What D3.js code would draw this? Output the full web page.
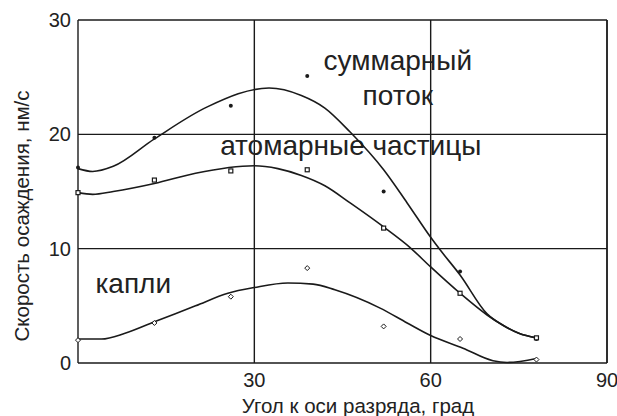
<!DOCTYPE html>
<html><head><meta charset="utf-8">
<script src="https://cdn.jsdelivr.net/npm/d3@7"></script>
<style>body{margin:0;background:#fff}svg{display:block}text{font-family:"Liberation Sans",Arial,sans-serif;fill:#222}</style>
</head><body><svg id="c" width="617" height="416"></svg>
<script>
const xTicks = [0, 30, 60, 90];
const yTicks = [0, 10, 20, 30];
const xTickLabels = ["", "30", "60", "90"];
const yTickLabels = ["0", "10", "20", "30"];
const xTitle = "Угол к оси разряда, град";
const yTitle = "Скорость осаждения, нм/с";

// measured points
const angles = [0, 13, 26, 39, 52, 65, 78];
const totalPts = [17.1, 19.7, 22.5, 25.1, 15.0, 8.0, 2.1];
const atomicPts = [14.9, 16.0, 16.8, 16.9, 11.8, 6.1, 2.2];
const dropPts = [2.0, 3.5, 5.8, 8.3, 3.2, 2.1, 0.3];

// fitted curves
const totalCurveX = [0, 2.5, 6, 13, 22, 32.5, 38, 42, 46.3, 52, 56, 60, 61.6, 65, 69.6, 72.3, 75, 78];
const totalCurveY = [17.0, 16.75, 17.2, 19.6, 22.4, 24.05, 23.4, 22.3, 20.2, 16.9, 14.0, 11.0, 9.9, 7.7, 4.3, 3.3, 2.6, 2.2];
const atomicCurveX = [0, 2.5, 6, 13, 20, 30, 34, 38, 42, 46.3, 52, 56.5, 60, 65, 69.6, 72.3, 75, 78];
const atomicCurveY = [14.9, 14.75, 15.0, 15.7, 16.6, 17.25, 17.0, 16.4, 15.5, 14.0, 11.9, 10.1, 8.4, 6.1, 4.2, 3.3, 2.6, 2.2];
const dropCurveX = [0, 4, 8, 13, 20, 25.5, 30, 35.7, 40, 43.7, 51.4, 56, 60, 65.5, 70.6, 73, 78];
const dropCurveY = [2.1, 2.1, 2.6, 3.6, 5.0, 6.1, 6.6, 7.0, 6.9, 6.4, 4.8, 3.5, 2.4, 1.3, 0.2, 0.05, 0.4];

const labels = [
  {t: "суммарный", x: 54.4, y: 25.6},
  {t: "поток", x: 54.4, y: 22.6},
  {t: "атомарные частицы", x: 46.4, y: 18.2},
  {t: "капли", x: 9.4, y: 6.1}
];

const svg = d3.select("#c");
const L = 78, R = 607, T = 20, B = 363;
const x = d3.scaleLinear().domain([0, 90]).range([L, R]);
const y = d3.scaleLinear().domain([0, 30]).range([B, T]);
const ink = "#1a1a1a";

// grid
const g = svg.append("g");
g.selectAll(".vx").data(xTicks).join("line")
  .attr("x1", d => x(d)).attr("x2", d => x(d)).attr("y1", y(0)).attr("y2", y(30))
  .attr("stroke", ink).attr("stroke-width", 1.4);
g.selectAll(".hy").data(yTicks).join("line")
  .attr("y1", d => y(d)).attr("y2", d => y(d)).attr("x1", x(0)).attr("x2", x(90))
  .attr("stroke", ink).attr("stroke-width", 1.4);
g.append("line").attr("x1", x(90)).attr("x2", x(90)).attr("y1", y(0)).attr("y2", y(30))
  .attr("stroke", ink).attr("stroke-width", 1.4);

// tick labels
svg.selectAll(".xl").data(xTicks).join("text")
  .attr("x", d => x(d)).attr("y", 387).attr("text-anchor", "middle")
  .attr("font-size", 20).text((d, i) => xTickLabels[i]);
svg.selectAll(".yl").data(yTicks).join("text")
  .attr("x", L - 7).attr("y", d => y(d) + 7).attr("text-anchor", "end")
  .attr("font-size", 20).text((d, i) => yTickLabels[i]);

svg.append("text").attr("x", 358).attr("y", 413).attr("text-anchor", "middle")
  .attr("font-size", 20.5).text(xTitle);
svg.append("text").attr("transform", "translate(29,216) rotate(-90)").attr("text-anchor", "middle")
  .attr("font-size", 20.5).text(yTitle);

// labels
svg.selectAll(".lab").data(labels).join("text")
  .attr("x", d => x(d.x)).attr("y", d => y(d.y)).attr("text-anchor", "middle")
  .attr("font-size", 28).attr("fill", "#333").text(d => d.t);

// curves
const line = d3.line().x(d => x(d[0])).y(d => y(d[1])).curve(d3.curveMonotoneX);
const curves = [[totalCurveX, totalCurveY], [atomicCurveX, atomicCurveY], [dropCurveX, dropCurveY]];
curves.forEach(([cx, cy]) => {
  svg.append("path").attr("d", line(cx.map((v, i) => [v, cy[i]])))
    .attr("fill", "none").attr("stroke", ink).attr("stroke-width", 1.6);
});

// markers
svg.selectAll(".pt").data(angles.map((a, i) => [a, totalPts[i]])).join("circle")
  .attr("cx", d => x(d[0])).attr("cy", d => y(d[1])).attr("r", 2).attr("fill", ink);
svg.selectAll(".pa").data(angles.map((a, i) => [a, atomicPts[i]])).join("rect")
  .attr("x", d => x(d[0]) - 2).attr("y", d => y(d[1]) - 2).attr("width", 4).attr("height", 4)
  .attr("fill", "#fff").attr("stroke", ink).attr("stroke-width", 1.2);
svg.selectAll(".pd").data(angles.map((a, i) => [a, dropPts[i]])).join("path")
  .attr("d", d => `M${x(d[0])},${y(d[1]) - 2.5}L${x(d[0]) + 2.5},${y(d[1])}L${x(d[0])},${y(d[1]) + 2.5}L${x(d[0]) - 2.5},${y(d[1])}Z`)
  .attr("fill", "#fff").attr("stroke", ink).attr("stroke-width", 1);
</script></body></html>
